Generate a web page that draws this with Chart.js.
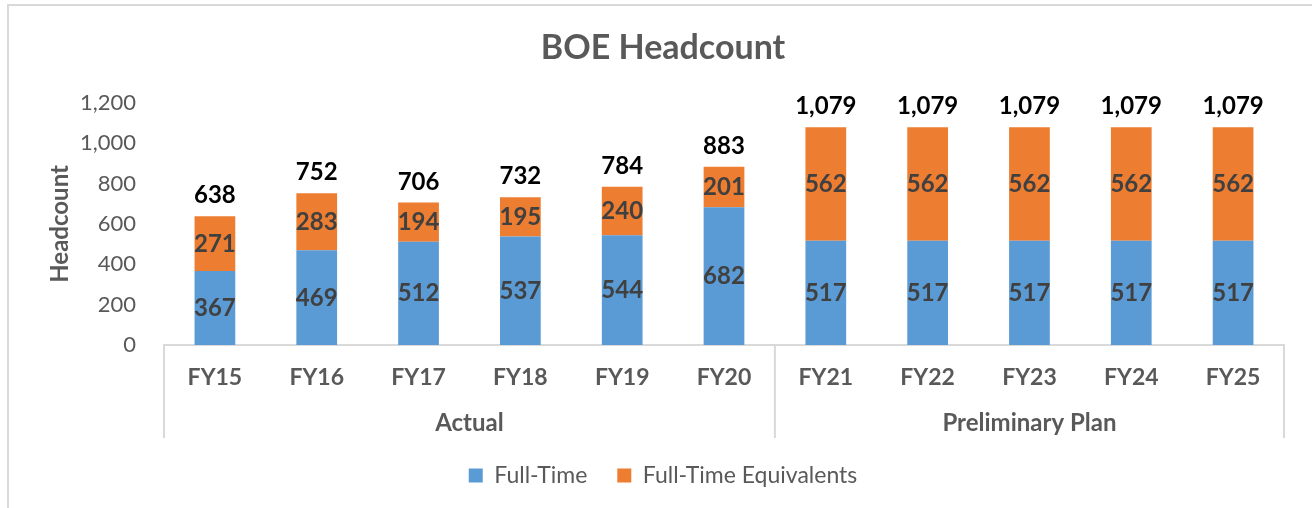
<!DOCTYPE html>
<html>
<head>
<meta charset="utf-8">
<script src="https://cdn.jsdelivr.net/npm/chart.js@4.4.0/dist/chart.umd.min.js"></script>
<style>
  html, body { margin: 0; padding: 0; background: #fff; width: 1312px; height: 508px; overflow: hidden; }
  #frame { position: absolute; left: 7px; top: 4px; width: 1320px; height: 520px; border: 2px solid #d9d9d9; }
  #wrap { position: absolute; left: 0; top: 0; width: 1312px; height: 508px; }
</style>
</head>
<body>
<div id="frame"></div>
<div id="wrap"><canvas id="chart" width="1312" height="508"></canvas></div>
<script>
// BOE headcount, stacked: full-time + full-time equivalents
const years      = ['FY15', 'FY16', 'FY17', 'FY18', 'FY19', 'FY20', 'FY21', 'FY22', 'FY23', 'FY24', 'FY25'];
const fullTime   = [367, 469, 512, 537, 544, 682, 517, 517, 517, 517, 517];
const fteValues  = [271, 283, 194, 195, 240, 201, 562, 562, 562, 562, 562];
const groups     = ['Actual', 'Preliminary Plan'];
const groupSizes = [6, 5];
const yMin = 0, yMax = 1200, yStep = 200;

const FONT = 'Lato, Carlito, "Open Sans", sans-serif';
const GRAY = '#595959';
const LINE = '#d9d9d9';

// value labels inside each segment + totals on top
const barLabels = {
  id: 'barLabels',
  afterDatasetsDraw(chart) {
    const ctx = chart.ctx;
    ctx.save();
    ctx.textAlign = 'center';
    ctx.textBaseline = 'alphabetic';
    ctx.font = 'bold 24px ' + FONT;
    ctx.fillStyle = '#404040';
    chart.data.datasets.forEach((ds, di) => {
      const meta = chart.getDatasetMeta(di);
      meta.data.forEach((bar, i) => {
        const mid = (bar.y + bar.base) / 2;
        ctx.fillText(ds.data[i], bar.x, mid + 8);
      });
    });
    // totals
    const last = chart.getDatasetMeta(chart.data.datasets.length - 1);
    ctx.fillStyle = '#000';
    last.data.forEach((bar, i) => {
      const total = chart.data.datasets.reduce((s, ds) => s + ds.data[i], 0);
      ctx.fillText(total.toLocaleString('en-US'), bar.x, bar.y - 13);
    });
    ctx.restore();
  }
};

// second level of the category axis: group names and separators
const groupAxis = {
  id: 'groupAxis',
  afterDraw(chart) {
    const x = chart.scales.x;
    const ctx = chart.ctx;
    const half = (x.getPixelForValue(1) - x.getPixelForValue(0)) / 2;
    const top = x.top, bottom = x.top + 93;
    ctx.save();
    ctx.strokeStyle = LINE;
    ctx.lineWidth = 2;
    ctx.fillStyle = GRAY;
    ctx.font = 'bold 24px ' + FONT;
    ctx.textAlign = 'center';
    ctx.textBaseline = 'middle';
    let start = 0;
    groups.forEach((g, gi) => {
      const end = start + groupSizes[gi] - 1;
      const left = x.getPixelForValue(start) - half;
      const right = x.getPixelForValue(end) + half;
      ctx.beginPath();
      ctx.moveTo(left, top);
      ctx.lineTo(left, bottom);
      if (gi === groups.length - 1) {
        ctx.moveTo(right, top);
        ctx.lineTo(right, bottom);
      }
      ctx.stroke();
      ctx.fillText(g, (left + right) / 2, top + 78);
      start = end + 1;
    });
    ctx.restore();
  }
};

new Chart(document.getElementById('chart'), {
  type: 'bar',
  data: {
    labels: years,
    datasets: [
      { label: 'Full-Time', data: fullTime, backgroundColor: '#5b9bd5' },
      { label: 'Full-Time Equivalents', data: fteValues, backgroundColor: '#ed7d31' },
    ],
  },
  plugins: [barLabels, groupAxis],
  options: {
    responsive: false,
    animation: false,
    barPercentage: 0.4,
    categoryPercentage: 1.0,
    layout: { padding: { left: 42, right: 28, top: 0, bottom: 11 } },
    plugins: {
      title: {
        display: true,
        text: 'BOE Headcount',
        color: GRAY,
        font: { family: FONT, size: 34, weight: 'bold' },
        padding: { top: 28, bottom: 34 },
      },
      legend: {
        position: 'bottom',
        labels: {
          color: GRAY,
          font: { family: FONT, size: 23 },
          boxWidth: 14,
          boxHeight: 14,
          padding: 30,
        },
      },
      tooltip: { enabled: false },
    },
    scales: {
      x: {
        stacked: true,
        grid: { display: false, drawTicks: false },
        border: { display: true, color: LINE, width: 2 },
        ticks: { color: GRAY, font: { family: FONT, size: 23, weight: 'bold' }, padding: 19, maxRotation: 0 },
        afterFit: s => { s.height = 89; },
      },
      y: {
        stacked: true,
        min: yMin,
        max: yMax,
        grid: { display: false, drawTicks: false },
        border: { display: false },
        ticks: { stepSize: yStep, color: GRAY, font: { family: FONT, size: 22 }, padding: 28 },
        title: { display: true, text: 'Headcount', color: GRAY, font: { family: FONT, size: 24, weight: 'bold' } },
        afterFit: s => { s.width = 122; },
      },
    },
  },
});
</script>
</body>
</html>
